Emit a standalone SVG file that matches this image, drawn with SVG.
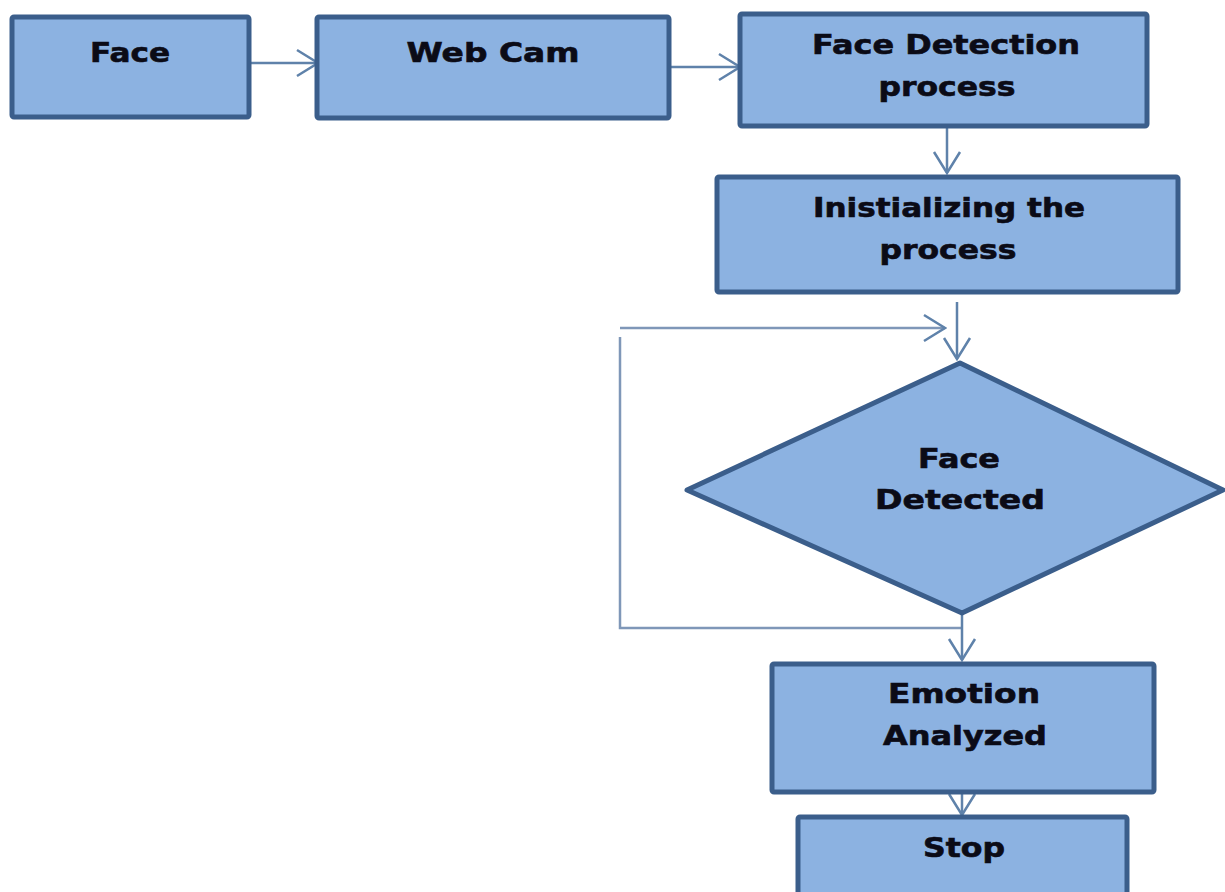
<svg xmlns="http://www.w3.org/2000/svg" width="1225" height="892" viewBox="0 0 1225 892">
<defs>
<style>
.node{fill:#8cb2e1;stroke:#3b5e8b;stroke-width:5;stroke-linejoin:round}
.lbl{font-family:"DejaVu Sans","Verdana",sans-serif;font-weight:bold;font-size:26px;fill:#0b0b16;stroke:#0b0b16;stroke-width:0.6;text-anchor:middle}
.conn{fill:none;stroke:#5f82aa;stroke-width:2.5}
.loop{fill:none;stroke:#7f97b8;stroke-width:2.5}
</style>
<marker id="ah" viewBox="0 0 24 30" refX="22" refY="15" markerWidth="24" markerHeight="30" markerUnits="userSpaceOnUse" orient="auto">
<path d="M1,2 L22,15 L1,28" fill="none" stroke="#5f82aa" stroke-width="2.5"/>
</marker>
</defs>
<rect width="1225" height="892" fill="#ffffff"/>
<g id="connectors">
<line class="conn" x1="249" y1="63" x2="318" y2="63" marker-end="url(#ah)"/>
<line class="conn" x1="669" y1="67" x2="740" y2="67" marker-end="url(#ah)"/>
<line class="conn" x1="947" y1="128" x2="947" y2="173" marker-end="url(#ah)"/>
<line class="conn" x1="957" y1="302" x2="957" y2="359" marker-end="url(#ah)"/>
<line class="loop" x1="620" y1="328" x2="945" y2="328" marker-end="url(#ah)"/>
<polyline class="loop" points="962,628 620,628 620,337"/>
<line class="conn" x1="962" y1="613" x2="962" y2="660" marker-end="url(#ah)"/>
<line class="conn" x1="962" y1="794" x2="962" y2="815" marker-end="url(#ah)"/>
</g>
<g id="face">
<rect class="node" x="12" y="17" width="237" height="100" rx="2"/>
<text class="lbl" x="130" y="62" textLength="80" lengthAdjust="spacingAndGlyphs">Face</text>
</g>
<g id="webcam">
<rect class="node" x="317" y="17" width="352" height="101" rx="2"/>
<text class="lbl" x="493" y="62" textLength="173" lengthAdjust="spacingAndGlyphs">Web Cam</text>
</g>
<g id="face-detection">
<rect class="node" x="740" y="14" width="407" height="112" rx="2"/>
<text class="lbl" x="946" y="54" textLength="268" lengthAdjust="spacingAndGlyphs">Face Detection</text>
<text class="lbl" x="947" y="96" textLength="137" lengthAdjust="spacingAndGlyphs">process</text>
</g>
<g id="initializing">
<rect class="node" x="717" y="177" width="461" height="115" rx="2"/>
<text class="lbl" x="949" y="217" textLength="272" lengthAdjust="spacingAndGlyphs">Inistializing the</text>
<text class="lbl" x="948" y="259" textLength="137" lengthAdjust="spacingAndGlyphs">process</text>
</g>
<g id="face-detected">
<polygon class="node" points="960,363 1223,490 962,613 687,490"/>
<text class="lbl" x="959" y="468" textLength="82" lengthAdjust="spacingAndGlyphs">Face</text>
<text class="lbl" x="960" y="509" textLength="170" lengthAdjust="spacingAndGlyphs">Detected</text>
</g>
<g id="emotion">
<rect class="node" x="772" y="664" width="382" height="128" rx="2"/>
<text class="lbl" x="964" y="703" textLength="152" lengthAdjust="spacingAndGlyphs">Emotion</text>
<text class="lbl" x="965" y="745" textLength="164" lengthAdjust="spacingAndGlyphs">Analyzed</text>
</g>
<g id="stop">
<rect class="node" x="798" y="817" width="329" height="90" rx="2"/>
<text class="lbl" x="964" y="857" textLength="82" lengthAdjust="spacingAndGlyphs">Stop</text>
</g>
</svg>
